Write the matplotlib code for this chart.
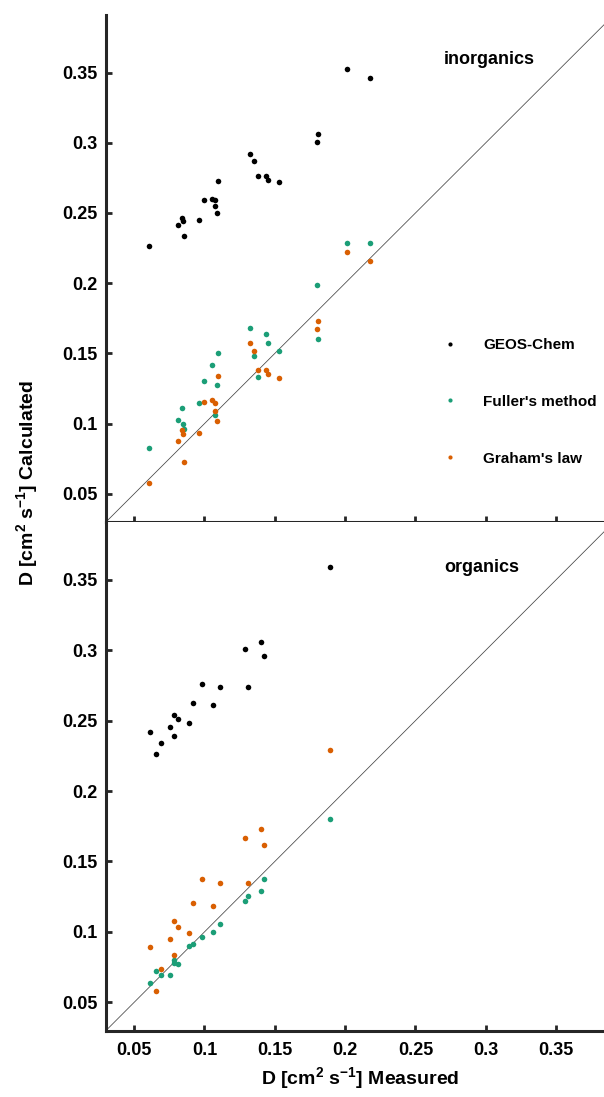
import matplotlib
matplotlib.use("Agg")
import matplotlib.pyplot as plt
from matplotlib.lines import Line2D

plt.rcParams["font.family"] = ["Liberation Sans", "DejaVu Sans"]
plt.rcParams["font.weight"] = "bold"
plt.rcParams["mathtext.fontset"] = "custom"
plt.rcParams["mathtext.rm"] = "Liberation Sans:bold"
plt.rcParams["mathtext.bf"] = "Liberation Sans:bold"
plt.rcParams["mathtext.default"] = "bf"

GREEN = "#1b9e77"
ORANGE = "#d95f02"

# ---- inorganics (top panel) ----
inorg_geos_x = [0.2011, 0.2176, 0.1804, 0.1800, 0.1325, 0.1349, 0.1380, 0.1435, 0.1449, 0.1529, 0.1095,
                0.0994, 0.1053, 0.1074, 0.1074, 0.1086, 0.0958, 0.0839, 0.0849, 0.0809, 0.0858, 0.0605]
inorg_geos_y = [0.3524, 0.3462, 0.3060, 0.3006, 0.2920, 0.2873, 0.2764, 0.2764, 0.2738, 0.2717, 0.2729,
                0.2594, 0.2598, 0.2589, 0.2548, 0.2501, 0.2447, 0.2461, 0.2445, 0.2416, 0.2333, 0.2264]
inorg_fuller_x = [0.2011, 0.2176, 0.1800, 0.1325, 0.1435, 0.1449, 0.1095, 0.1529, 0.1349, 0.1380, 0.1804,
                  0.1053, 0.0994, 0.1086, 0.0958, 0.1074, 0.0839, 0.0809, 0.0849, 0.0858, 0.0605]
inorg_fuller_y = [0.2286, 0.2286, 0.1990, 0.1678, 0.1637, 0.1573, 0.1504, 0.1516, 0.1481, 0.1332, 0.1604,
                  0.1419, 0.1301, 0.1273, 0.1149, 0.1064, 0.1114, 0.1028, 0.1000, 0.0960, 0.0827]
inorg_graham_x = [0.2011, 0.2176, 0.1804, 0.1800, 0.1325, 0.1349, 0.1095, 0.1380, 0.1435, 0.1449, 0.1529,
                  0.0994, 0.1053, 0.1074, 0.1074, 0.1086, 0.0958, 0.0839, 0.0849, 0.0809, 0.0858, 0.0605]
inorg_graham_y = [0.2222, 0.2158, 0.1732, 0.1673, 0.1573, 0.1518, 0.1337, 0.1384, 0.1384, 0.1351, 0.1322,
                  0.1154, 0.1166, 0.1147, 0.1088, 0.1017, 0.0932, 0.0955, 0.0925, 0.0879, 0.0726, 0.0574]

# ---- organics (bottom panel) ----
org_x = [0.1894, 0.1399, 0.1287, 0.1420, 0.0984, 0.1107, 0.1311, 0.0917, 0.1062,
         0.0782, 0.0813, 0.0891, 0.0756, 0.0612, 0.0780, 0.0690, 0.0656]
org_geos_y = [0.3592, 0.3058, 0.3005, 0.2960, 0.2761, 0.2738, 0.2738, 0.2627, 0.2613,
              0.2542, 0.2511, 0.2485, 0.2458, 0.2420, 0.2389, 0.2339, 0.2264]
org_fuller_y = [0.1803, 0.1287, 0.1216, 0.1377, 0.0967, 0.1055, 0.1252, 0.0911, 0.0996,
                0.0801, 0.0773, 0.0899, 0.0695, 0.0636, 0.0779, 0.0697, 0.0725]
org_graham_y = [0.2290, 0.1729, 0.1670, 0.1618, 0.1379, 0.1348, 0.1348, 0.1203, 0.1184,
                0.1078, 0.1036, 0.0993, 0.0953, 0.0890, 0.0838, 0.0739, 0.0578]

ticks = [0.05, 0.1, 0.15, 0.2, 0.25, 0.3, 0.35]
tick_labels = ["0.05", "0.1", "0.15", "0.2", "0.25", "0.3", "0.35"]
lims = (0.03, 0.391)
xlims = (0.03, 0.384)

fig = plt.figure(figsize=(6.04, 10.97), dpi=100)
ax_top = fig.add_axes([0.1755, 0.5242, 0.8245, 0.4622])
ax_bot = fig.add_axes([0.1755, 0.0606, 0.8245, 0.4636])

ms = 4.0
for ax in (ax_top, ax_bot):
    ax.plot([0, 1], [0, 1], color="#444444", lw=0.55, zorder=1)
    ax.set_xlim(xlims)
    ax.set_ylim(lims)
    ax.set_xticks(ticks)
    ax.set_yticks(ticks)
    ax.set_yticklabels(tick_labels, fontsize=13, fontweight="bold")
    ax.spines["top"].set_visible(False)
    ax.spines["right"].set_visible(False)
    for s in ("left", "bottom"):
        ax.spines[s].set_linewidth(2.2)
        ax.spines[s].set_color("#262626")
    ax.tick_params(direction="in", length=4, width=2, color="#262626", pad=6)

ax_top.set_xticklabels([])
ax_bot.set_xticklabels(tick_labels, fontsize=13, fontweight="bold")
ax_bot.tick_params(axis="x", pad=8)

ax_top.plot(inorg_geos_x, inorg_geos_y, "o", color="black", ms=ms, mew=0, zorder=3)
ax_top.plot(inorg_fuller_x, inorg_fuller_y, "o", color=GREEN, ms=ms, mew=0, zorder=3)
ax_top.plot(inorg_graham_x, inorg_graham_y, "o", color=ORANGE, ms=ms, mew=0, zorder=3)

ax_bot.plot(org_x, org_geos_y, "o", color="black", ms=ms, mew=0, zorder=3)
ax_bot.plot(org_x, org_fuller_y, "o", color=GREEN, ms=ms, mew=0, zorder=3)
ax_bot.plot(org_x, org_graham_y, "o", color=ORANGE, ms=ms, mew=0, zorder=3)

ax_top.text(444 / 604, 1 - 60 / 1097, "inorganics", transform=fig.transFigure,
            fontsize=13, fontweight="bold", ha="left", va="center")
ax_bot.text(444 / 604, 1 - 568 / 1097, "organics", transform=fig.transFigure,
            fontsize=13, fontweight="bold", ha="left", va="center")

handles = [Line2D([], [], ls="none", marker="o", color=c, ms=3.0, mew=0)
           for c in ("black", GREEN, ORANGE)]
fig.legend(handles, ["GEOS-Chem", "Fuller's method", "Graham's law"],
           loc="upper left", bbox_to_anchor=(442 / 604, 1 - 338 / 1097),
           bbox_transform=fig.transFigure, frameon=False, borderpad=0,
           borderaxespad=0, handlelength=1.0, handletextpad=1.7,
           labelspacing=2.8, prop={"size": 11, "weight": "bold"})

fig.text(360 / 604, 1 - 1078 / 1097, "D [cm$^2$ s$^{-1}$] Measured", fontsize=14,
         fontweight="bold", ha="center", va="center")
fig.text(27 / 604, 1 - 483 / 1097, "D [cm$^2$ s$^{-1}$] Calculated", fontsize=14,
         fontweight="bold", ha="center", va="center", rotation=90)

fig.savefig("out.png", dpi=100)
